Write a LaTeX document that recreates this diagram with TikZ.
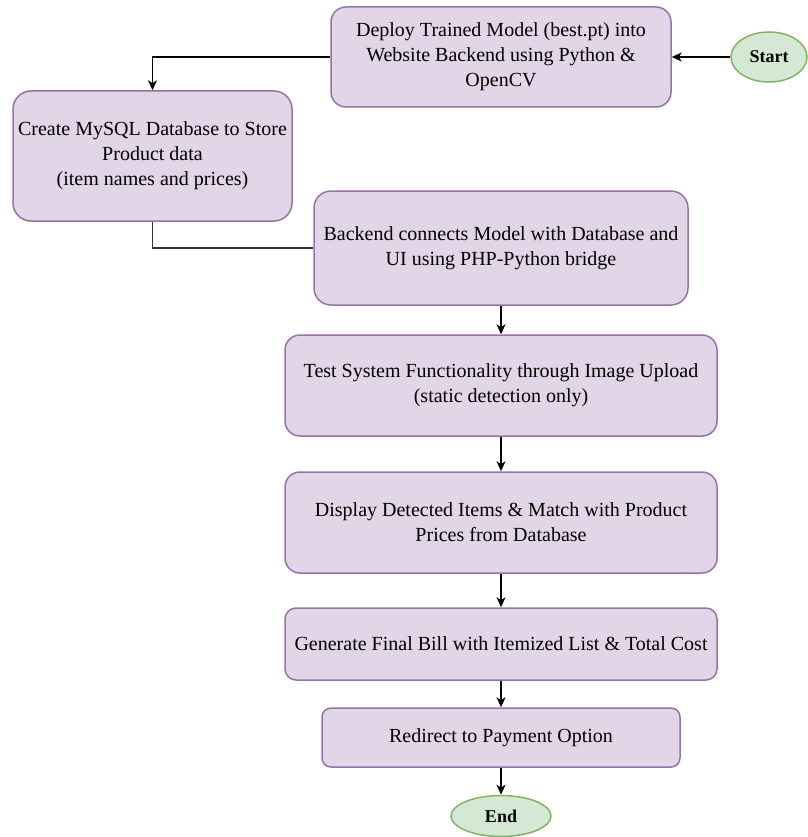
\documentclass[tikz,border=0pt]{standalone}
\usepackage{fontspec}
\setmainfont{Liberation Serif}
\usetikzlibrary{arrows.meta,shapes.geometric}
\definecolor{boxfill}{HTML}{E1D5E7}
\definecolor{boxline}{HTML}{9673A6}
\definecolor{termfill}{HTML}{D5E8D4}
\definecolor{termline}{HTML}{82B366}
\begin{document}
\begin{tikzpicture}[x=1pt,y=-1pt,
  stepbox/.style={draw=boxline, fill=boxfill, line width=1.5pt,
    rounded corners=#1, align=center, inner sep=0pt,
    font=\fontsize{20}{25}\selectfont},
  terminal/.style={ellipse, draw=termline, fill=termfill, line width=1.5pt,
    inner sep=0pt, font=\fontsize{18}{22}\selectfont\bfseries},
  flow/.style={draw=black, line width=1.3pt,
    -{Stealth[length=10pt,width=9pt,inset=3pt]}},
  link/.style={draw=black!80, line width=1.3pt}
]
\useasboundingbox (0,0) rectangle (807,837);

% process steps
\node[stepbox=15pt, minimum width=340pt, minimum height=100pt] (deploy) at (501,57)
  {Deploy Trained Model (best.pt) into\\Website Backend using Python \&\\OpenCV};
\node[stepbox=18pt, minimum width=279pt, minimum height=130pt] (mysql) at (152.5,156)
  {Create MySQL Database to Store\\Product data\\(item names and prices)};
\node[stepbox=17pt, minimum width=374pt, minimum height=114pt] (backend) at (501,248)
  {Backend connects Model with Database and\\UI using PHP-Python bridge};
\node[stepbox=15pt, minimum width=432pt, minimum height=101pt] (test) at (501,385.5)
  {Test System Functionality through Image Upload\\(static detection only)};
\node[stepbox=15pt, minimum width=432pt, minimum height=101pt] (display) at (501,522.5)
  {Display Detected Items \& Match with Product\\Prices from Database};
\node[stepbox=11pt, minimum width=432pt, minimum height=72pt] (bill) at (501,644)
  {Generate Final Bill with Itemized List \& Total Cost};
\node[stepbox=9pt, minimum width=358pt, minimum height=59pt] (redirect) at (501,737.5)
  {Redirect to Payment Option};

% start / end terminals
\node[terminal, minimum width=76pt, minimum height=50pt] (start) at (769,57) {Start};
\node[terminal, minimum width=100pt, minimum height=41pt] (end) at (501,816) {End};

% connectors
\draw[flow] (start) -- (deploy.east);
\draw[flow] (deploy.west) -| (mysql.north);
\draw[link] (mysql.south) |- (backend.west);
\draw[flow] (backend) -- (test);
\draw[flow] (test) -- (display);
\draw[flow] (display) -- (bill);
\draw[flow] (bill) -- (redirect);
\draw[flow] (redirect) -- (end);
\end{tikzpicture}
\end{document}
